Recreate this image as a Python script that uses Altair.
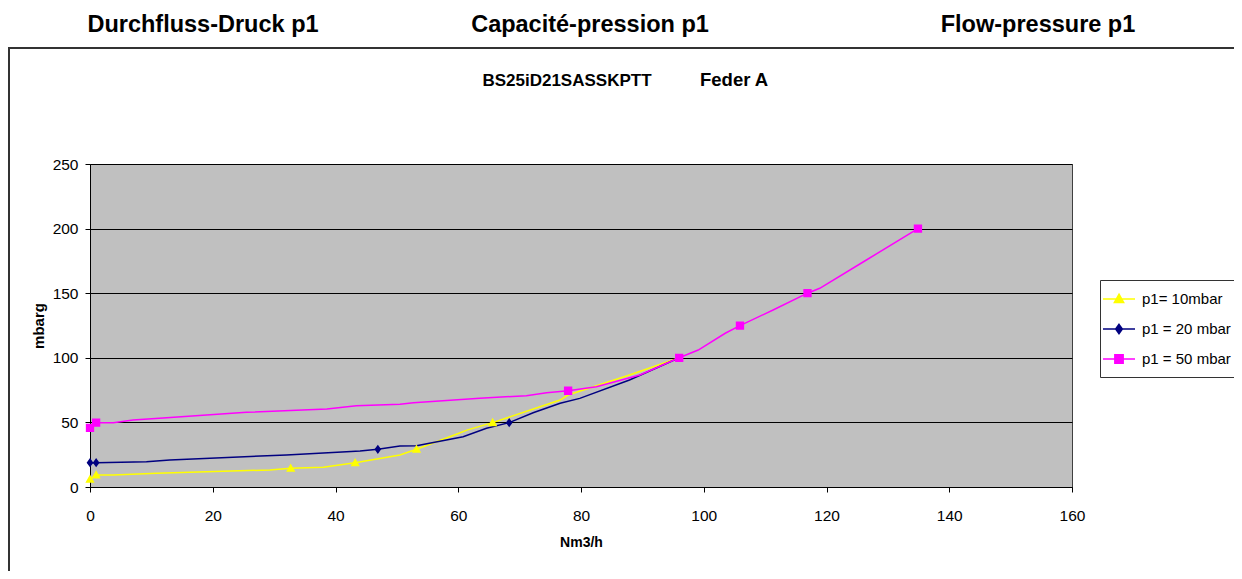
import altair as alt
import pandas as pd

# ---------------- data ----------------
series_names = ["p1= 10mbar", "p1 = 20 mbar", "p1 = 50 mbar"]
series_colors = ["#FFFF00", "#000080", "#FF00FF"]

c10_x = [0, 1, 3.8, 10.9, 29.3, 32.7, 38, 43.2, 50.5, 53.2, 59.7, 61.4, 65.6, 76.6, 77.9, 87.9, 96]
c10_y = [6, 9.3, 9.3, 10.6, 13.2, 14.5, 15.2, 18.8, 24.8, 29.2, 40.8, 44, 49.8, 67.3, 71.2, 86.7, 100]

c20_x = [0, 1, 9.2, 13, 32, 41.8, 44, 46.9, 50.5, 53.2, 60.8, 64.6, 68.3, 72.2, 76.6, 79.8, 87.9, 96]
c20_y = [18.8, 18.8, 19.6, 20.9, 24.8, 27.3, 27.9, 29.2, 31.7, 32, 38.9, 45.4, 49.8, 57.5, 64.8, 68.6, 82.8, 100]

c50_x = [0, 1, 3.8, 7, 11.9, 25.5, 38.6, 43.4, 50.5, 52.7, 63.5, 71.1, 74.4, 77.9, 82.5, 89.6, 96,
         99.1, 103.5, 105.9, 111.3, 116.9, 118.9, 126.5, 134.9]
c50_y = [45.7, 49.8, 49.8, 51.9, 53.4, 57.8, 60.4, 62.9, 64, 65.3, 68.6, 70.7, 73, 74.5, 77.6, 86.7, 100,
         106, 119, 124.9, 137, 150, 153.8, 175.7, 200]

m10_x = [0, 1, 32.7, 43.2, 53.2, 65.6]
m10_y = [6, 9.3, 14.5, 18.8, 29.2, 49.8]
m20_x = [0, 1, 46.9, 68.3]
m20_y = [18.8, 18.8, 29.2, 49.8]
m50_x = [0, 1, 77.9, 96, 105.9, 116.9, 134.9]
m50_y = [45.7, 49.8, 74.5, 100, 124.9, 150, 200]

x_ticks = [0, 20, 40, 60, 80, 100, 120, 140, 160]
y_ticks = [0, 50, 100, 150, 200, 250]

curves = pd.concat([
    pd.DataFrame({"x": c10_x, "y": c10_y, "series": series_names[0], "o": range(len(c10_x))}),
    pd.DataFrame({"x": c20_x, "y": c20_y, "series": series_names[1], "o": range(len(c20_x))}),
    pd.DataFrame({"x": c50_x, "y": c50_y, "series": series_names[2], "o": range(len(c50_x))}),
])
marks = pd.concat([
    pd.DataFrame({"x": m10_x, "y": m10_y, "series": series_names[0]}),
    pd.DataFrame({"x": m20_x, "y": m20_y, "series": series_names[1]}),
    pd.DataFrame({"x": m50_x, "y": m50_y, "series": series_names[2]}),
])

FONT = "Liberation Sans"
TICK_FS = 15.5

shape_paths = [
    "M-2,0H2M0,-0.6L0.58,0.45L-0.58,0.45Z",
    "M-2,0H2M0,-0.58L0.42,0L0,0.58L-0.42,0Z",
    "M-2,0H2M-0.52,-0.52H0.52V0.52H-0.52Z",
]

xs = alt.Scale(domain=[0, 160], nice=False)
ys = alt.Scale(domain=[0, 250], nice=False)
cs = alt.Scale(domain=series_names, range=series_colors)

def x_axis():
    return alt.Axis(values=x_ticks, title="Nm3/h", grid=False, tickSize=5,
                    labelFont=FONT, labelFontSize=TICK_FS, labelColor="black",
                    labelPadding=16, titlePadding=12, titleFont=FONT, titleFontSize=14,
                    titleFontWeight="bold", titleColor="black")

def y_axis():
    return alt.Axis(values=y_ticks, title="mbarg", grid=True, tickSize=5,
                    labelFont=FONT, labelFontSize=TICK_FS, labelColor="black",
                    labelPadding=7, titlePadding=6, titleFont=FONT, titleFontSize=15,
                    titleFontWeight="bold", titleColor="black")

legend = alt.Legend(
    title=None, orient="none", legendX=1010, legendY=116, direction="vertical",
    labelFont=FONT, labelFontSize=15, labelColor="black", labelOffset=14,
    symbolSize=256, symbolStrokeWidth=1.5, rowPadding=13, padding=10,
    strokeColor="#333333", fillColor="white", symbolOpacity=1,
)

lines = alt.Chart(curves).mark_line(strokeWidth=1.5, clip=True).encode(
    x=alt.X("x:Q", scale=xs, axis=x_axis()),
    y=alt.Y("y:Q", scale=ys, axis=y_axis()),
    color=alt.Color("series:N", scale=cs, legend=legend),
    order="o:Q",
)

points = alt.Chart(marks).mark_point(filled=True, size=256, opacity=1).encode(
    x=alt.X("x:Q", scale=xs, axis=x_axis()),
    y=alt.Y("y:Q", scale=ys, axis=y_axis()),
    color=alt.Color("series:N", scale=cs, legend=legend),
    shape=alt.Shape("series:N", scale=alt.Scale(domain=series_names, range=shape_paths), legend=legend),
)

one = pd.DataFrame({"k": [0]})

frame = alt.Chart(one).mark_rect(filled=False, stroke="#333333", strokeWidth=2).encode(
    x=alt.value(-81), x2=alt.value(1300), y=alt.value(-116), y2=alt.value(600)
)

def txt(s, x, y, size, align="center"):
    return alt.Chart(one).mark_text(
        text=s, font=FONT, fontSize=size, fontWeight="bold", align=align,
        baseline="alphabetic", color="black"
    ).encode(x=alt.value(x), y=alt.value(y))

texts = [
    txt("Durchfluss-Druck p1", 113, -132.5, 23.5),
    txt("Capacité-pression p1", 500, -132.5, 23.5),
    txt("Flow-pressure p1", 948, -132.5, 23.5),
    txt("BS25iD21SASSKPTT", 477, -78.5, 17),
    txt("Feder A", 610, -78.5, 18.5, align="left"),
]

chart = alt.layer(frame, lines, points, *texts).properties(
    width=982, height=323,
    padding={"left": 82, "top": 156, "right": 162, "bottom": 84},
    autosize=alt.AutoSizeParams(type="none"),
    background="white",
).configure(
    style={"guide-label": {"fontSize": TICK_FS, "font": FONT, "fill": "black"}}
).configure_view(
    fill="#C0C0C0", stroke="#404040", strokeWidth=1
).configure_axis(
    labelFont=FONT, labelFontSize=TICK_FS, labelColor="black",
    domainColor="black", tickColor="black", gridColor="black", gridOpacity=1,
    gridWidth=1, domainWidth=1, labelFlush=False, labelOverlap=False,
)

chart.save("out.html", embed_options={"renderer": "svg", "actions": False})
